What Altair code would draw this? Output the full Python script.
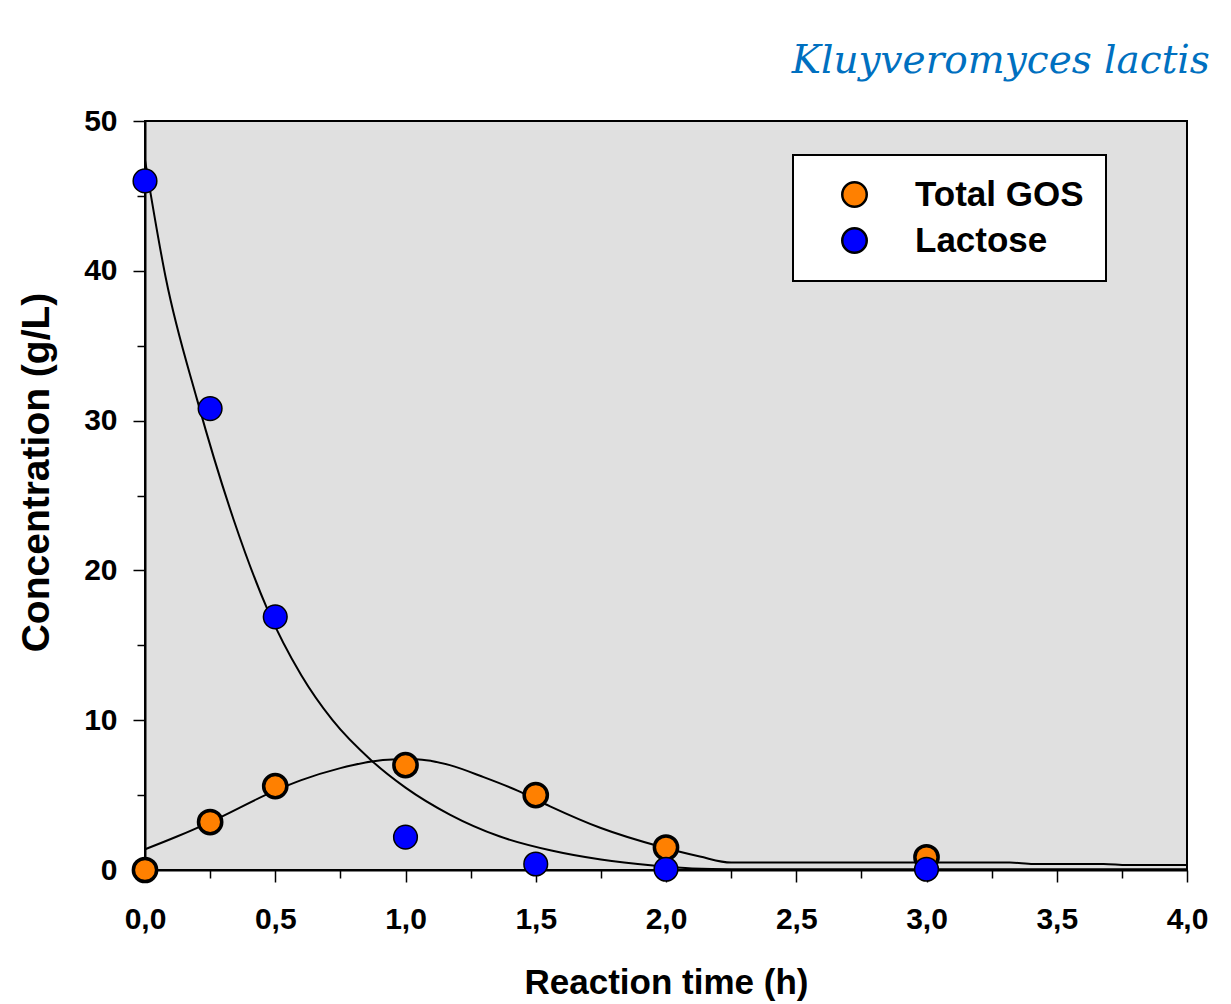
import altair as alt
import pandas as pd

# Measured data points
time_points = [0.0, 0.25, 0.5, 1.0, 1.5, 2.0, 3.0]
gos_values = [0.0, 3.2, 5.6, 7.0, 5.0, 1.5, 0.85]
lactose_values = [46.0, 30.8, 16.9, 2.2, 0.4, 0.05, 0.05]

# Fitted curves
lac_fit_t = [0, 0.08, 0.2, 0.34, 0.47, 0.6, 0.72, 0.87, 1.0, 1.17, 1.36, 1.56, 1.75, 1.95, 2.1, 2.25, 3.0, 4.0]
lac_fit_v = [47.4, 39.5, 31.4, 23.4, 17.4, 13.0, 10.0, 7.3, 5.5, 3.7, 2.25, 1.3, 0.7, 0.3, 0.1, 0.05, 0.05, 0.05]
gos_fit_t = [0, 0.125, 0.25, 0.5, 0.6, 0.75, 0.87, 0.95, 1.04, 1.1, 1.17, 1.3, 1.43, 1.555, 1.75, 1.98, 2.13, 2.25, 3.32, 3.41, 3.68, 3.77, 4.0]
gos_fit_v = [1.38, 2.25, 3.2, 5.3, 6.0, 6.8, 7.25, 7.38, 7.4, 7.28, 7.0, 6.2, 5.3, 4.25, 2.8, 1.55, 0.9, 0.5, 0.5, 0.4, 0.4, 0.33, 0.33]

series_names = ["Total GOS", "Lactose"]
series_colors = ["#ff8000", "#0000ff"]

x_ticks = [i * 0.25 for i in range(17)]
y_ticks = [i * 5 for i in range(11)]

gos_df = pd.DataFrame({"t": time_points, "v": gos_values, "series": "Total GOS"})
lac_df = pd.DataFrame({"t": time_points, "v": lactose_values, "series": "Lactose"})
fit_df = pd.concat([
    pd.DataFrame({"t": lac_fit_t, "v": lac_fit_v, "curve": "lac"}),
    pd.DataFrame({"t": gos_fit_t, "v": gos_fit_v, "curve": "gos"}),
])

FONT = "Liberation Sans"

x_enc = alt.X(
    "t:Q",
    scale=alt.Scale(domain=[0, 4], nice=False, zero=False),
    axis=alt.Axis(
        title="Reaction time (h)",
        values=x_ticks,
        labelExpr="datum.value % 0.5 === 0 ? replace(format(datum.value, '.1f'), '.', ',') : ''",
        tickSize={"condition": {"test": "datum.value % 0.5 === 0", "value": 12}, "value": 8},
        labelPadding=22,
        labelFlush=False,
        titlePadding=31,
        titleFontSize=35,
        grid=False,
    ),
)
y_enc = alt.Y(
    "v:Q",
    scale=alt.Scale(domain=[0, 50], nice=False),
    axis=alt.Axis(
        title="Concentration (g/L)",
        values=y_ticks,
        labelExpr="datum.value % 10 === 0 ? format(datum.value, 'd') : ''",
        tickSize={"condition": {"test": "datum.value % 10 === 0", "value": 12}, "value": 8},
        labelPadding=16,
        titleFontSize=39,
        titleX=-97,
        titleY=351,
        titleBaseline="alphabetic",
        titleAlign="center",
        grid=False,
    ),
)

fill_scale = alt.Scale(domain=series_names, range=series_colors)

lines = alt.Chart(fit_df).mark_line(color="black", strokeWidth=2, interpolate="monotone").encode(
    x=x_enc, y=y_enc, detail="curve:N"
)

gos_pts = alt.Chart(gos_df).mark_point(
    shape="circle", size=540, stroke="black", strokeWidth=3.5, opacity=1, filled=False
).encode(
    x="t:Q", y="v:Q",
    fill=alt.Fill("series:N", scale=fill_scale, title=None,
                  legend=alt.Legend(orient="none", legendX=648, legendY=34)),
)
lac_pts = alt.Chart(lac_df).mark_point(
    shape="circle", size=560, stroke="black", strokeWidth=1.5, opacity=1, filled=False
).encode(
    x="t:Q", y="v:Q",
    fill=alt.Fill("series:N", scale=fill_scale),
)

chart = alt.layer(lines, gos_pts, lac_pts).properties(
    width=1042,
    height=749,
    autosize=alt.AutoSizeParams(type="none"),
    padding={"left": 145, "top": 121, "right": 44, "bottom": 134},
    background="white",
    title=alt.Title(
        "Kluyveromyces lactis",
        font="DejaVu Serif",
        fontStyle="italic",
        fontWeight="normal",
        fontSize=39,
        color="#0070c0",
        anchor="end",
        dx=2,
        dy=40,
        baseline="alphabetic",
        offset=34,
    ),
).configure_view(
    fill="#e0e0e0", stroke="black", strokeWidth=2
).configure_axis(
    domainColor="black", domainWidth=2, tickColor="black", tickWidth=1.5,
    labelFont=FONT, labelFontWeight="bold", labelFontSize=30, labelColor="black",
    titleFont=FONT, titleFontWeight="bold", titleFontSize=34, titleColor="black",
).configure_legend(
    fillColor="white", strokeColor="black", strokeWidth=2, padding=22,
    labelFont=FONT, labelFontWeight="bold", labelFontSize=35, labelColor="black",
    labelLimit=400,
    symbolSize=600, symbolStrokeColor="black", symbolStrokeWidth=2.5, symbolType="circle",
    symbolOffset=22, labelOffset=43, rowPadding=10, symbolOpacity=1,
)

chart.save("out.html", embed_options={"renderer": "svg", "actions": False})
